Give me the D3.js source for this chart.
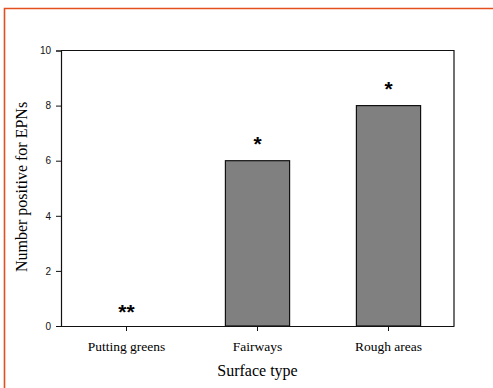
<!DOCTYPE html>
<html>
<head>
<meta charset="utf-8">
<script src="https://cdn.jsdelivr.net/npm/d3@7"></script>
<style>
  body { margin: 0; background: #fff; }
  svg { display: block; }
</style>
</head>
<body>
<svg id="chart" width="493" height="388"></svg>
<script>
// data
var categories = ["Putting greens", "Fairways", "Rough areas"];
var values = [0, 6, 8];
var marks = ["**", "*", "*"];
var yTicks = [0, 2, 4, 6, 8, 10];

var svg = d3.select("#chart");

// orange frame, clipped on right and bottom
svg.append("path")
    .attr("d", "M4.5,388 L4.5,8.5 L493,8.5")
    .attr("fill", "none")
    .attr("stroke", "#e2501f")
    .attr("stroke-width", 1.6);

var plotLeft = 61, plotRight = 454, plotTop = 50.5, plotBottom = 326;

var x = d3.scaleBand()
    .domain(categories)
    .range([plotLeft, plotRight])
    .paddingInner(0.51)
    .paddingOuter(0.255);

var y = d3.scaleLinear()
    .domain([0, 10])
    .range([plotBottom, plotTop]);

// bars
svg.append("g").selectAll("rect")
    .data(values)
  .enter().append("rect")
    .attr("x", function(d, i) { return x(categories[i]); })
    .attr("y", function(d) { return y(d); })
    .attr("width", x.bandwidth())
    .attr("height", function(d) { return plotBottom - y(d); })
    .attr("fill", "#808080")
    .attr("stroke", "#111")
    .attr("stroke-width", 1.2);

// asterisks above bars (the empty one sits a bit lower)
svg.append("g").selectAll("text")
    .data(values)
  .enter().append("text")
    .attr("x", function(d, i) { return x(categories[i]) + x.bandwidth() / 2; })
    .attr("y", function(d) { return y(d) - (d > 0 ? 10 : 7); })
    .attr("text-anchor", "middle")
    .attr("font-family", "Liberation Sans, Arial, sans-serif")
    .attr("font-weight", "bold")
    .attr("font-size", 21)
    .attr("fill", "#000")
    .text(function(d, i) { return marks[i]; });

// plot box (top and right)
svg.append("path")
    .attr("d", "M" + plotLeft + "," + plotTop + " L" + plotRight + "," + plotTop + " L" + plotRight + "," + plotBottom)
    .attr("fill", "none")
    .attr("stroke", "#111")
    .attr("stroke-width", 1.2);

// y axis
var yAxis = svg.append("g")
    .attr("transform", "translate(" + plotLeft + ",0)")
    .call(d3.axisLeft(y).tickValues(yTicks).tickSize(5).tickPadding(5));
yAxis.select(".domain").attr("stroke", "#111").attr("stroke-width", 1.2);
yAxis.selectAll(".tick line").attr("stroke", "#111");
yAxis.selectAll(".tick text")
    .attr("font-family", "Liberation Sans, Arial, sans-serif")
    .attr("font-size", 10)
    .attr("fill", "#111");

// x axis
var xAxis = svg.append("g")
    .attr("transform", "translate(0," + plotBottom + ")")
    .call(d3.axisBottom(x).tickSize(5).tickPadding(10).tickSizeOuter(0));
xAxis.select(".domain").attr("stroke", "#111").attr("stroke-width", 1.2);
xAxis.selectAll(".tick line").attr("stroke", "#111");
xAxis.selectAll(".tick text")
    .attr("font-family", "Liberation Serif, Times New Roman, serif")
    .attr("font-size", 13.5)
    .attr("fill", "#000");

// axis titles
svg.append("text")
    .attr("x", (plotLeft + plotRight) / 2)
    .attr("y", 376)
    .attr("text-anchor", "middle")
    .attr("font-family", "Liberation Serif, Times New Roman, serif")
    .attr("font-size", 16)
    .attr("fill", "#000")
    .text("Surface type");

svg.append("text")
    .attr("transform", "translate(26.5,187) rotate(-90)")
    .attr("text-anchor", "middle")
    .attr("font-family", "Liberation Serif, Times New Roman, serif")
    .attr("font-size", 16)
    .attr("fill", "#000")
    .text("Number positive for EPNs");
</script>
</body>
</html>
